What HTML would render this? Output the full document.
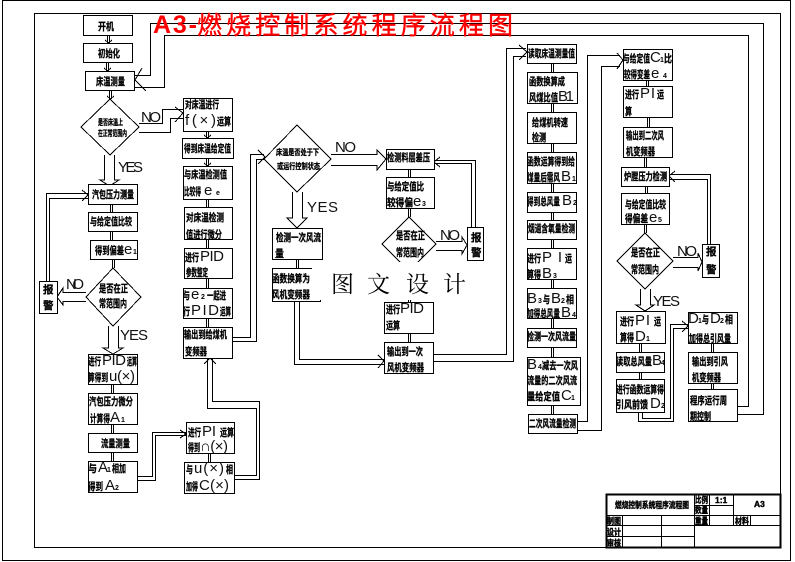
<!DOCTYPE html>
<html><head><meta charset="utf-8"><title>A3-燃烧控制系统程序流程图</title>
<style>
html,body{margin:0;padding:0;background:#fff}
svg{display:block}
.c{font-family:"Liberation Sans","Noto Sans CJK SC",sans-serif;font-size:10.5px;font-weight:700;fill:#000;stroke:#000;stroke-width:.3px}
.t{font-family:"Liberation Sans","Noto Sans CJK SC",sans-serif;font-size:8.5px;font-weight:700;fill:#000;stroke:#000;stroke-width:.4px}
.l{font-family:"Liberation Sans","Noto Sans CJK SC",sans-serif;font-size:15px;font-weight:400;fill:#111}
.s{font-family:"Liberation Sans",sans-serif;font-size:7px;font-weight:700;fill:#000}
.w{font-family:"Liberation Serif","Noto Serif CJK SC",serif;font-size:23px;fill:#000}
.r{font-family:"Liberation Sans","Noto Sans CJK SC",sans-serif;font-size:25px;fill:#f00;stroke:#f00;stroke-width:.4px}
.ra{font-family:"Liberation Sans",sans-serif;font-size:25px;font-weight:700;fill:#f00}
</style></head><body>
<svg xmlns="http://www.w3.org/2000/svg" width="795" height="562" viewBox="0 0 795 562">
<rect width="795" height="562" fill="#fff"/>
<g fill="none" stroke="#000" stroke-width="1" shape-rendering="crispEdges">
<rect x="2.5" y="0.5" width="788" height="560"/>
<rect x="34.5" y="13.5" width="746" height="534" stroke-width="1"/>
<!-- long connectors -->
<path d="M135 75.5H150.5V23.5H763.5V414.5H737M135 87.5H164.5V35.5H748.5V406.5H737"/>
<path d="M142 68L135 80L146 91"/>
<path d="M139 123.5H162.5V109.5H183M139 132.5H170.5V118.5H183M175 107L183 113L175 122"/>
<path d="M232 337.5H250.5V154.5H264M232 341.5H256.5V159.5H264M258 150L265 157L258 164"/>
<path d="M137 476.5H152.5V432.5H186M137 480.5H155.5V435.5H186M180 430L186 434L180 438"/>
<path d="M234 475.5H256.5V408.5H207.5V358M234 479.5H259.5V401.5H212.5V358M204 364L210 358L216 364"/>
<path d="M294.5 301V364.5H384M299.5 301V359.5H384M378 355L384 361L378 368"/>
<path d="M433 354.5H506.5V48.5H526M433 361.5H513.5V56.5H526M519 45L527 52L519 60"/>
<path d="M577 421.5H587.5V55.5H620M577 430.5H601.5V66.5H620M617 53L623 60L617 69"/>
<path d="M638.5 412V421.5H673.5V328.5H688M642.5 412V418.5H670.5V324.5H688M682 321L688 326L682 332"/>
<path d="M46.5 281V193.5H88M49.5 281V198.5H88M82 190L88 195L82 201"/>
<path d="M471.5 227V163.5H434M475.5 227V160.5H434M440 157L434 162L440 167"/>
<path d="M707.5 244V179.5H669M710.5 244V174.5H669M675 171L669 176L675 182"/>
<!-- short double connectors -->
<path d="M107.5 35V43M109.5 35V43M105 40L108.5 43L112 40"/>
<path d="M106.5 62V71M108.5 62V71M104 68L107.5 71L111 68"/>
<path d="M109.5 90V99M111.5 90V99M107 96L110.5 99L114 96"/>
<path d="M206.5 131V138M208.5 131V138M204 135L207.5 138L211 135"/>
<path d="M206.5 158V166M208.5 158V166M204 163L207.5 166L211 163"/>
<path d="M206.5 199V207M208.5 199V207"/>
<path d="M206.5 239V248M208.5 239V248"/>
<path d="M206.5 278V288M208.5 278V288"/>
<path d="M206.5 318V327M208.5 318V327"/>
<path d="M110.5 204V212M112.5 204V212"/>
<path d="M110.5 231V240M112.5 231V240"/>
<path d="M112.5 259V268M114.5 259V268"/>
<path d="M111.5 384V393M113.5 384V393"/>
<path d="M111.5 424V433M113.5 424V433"/>
<path d="M111.5 452V461M113.5 452V461"/>
<path d="M208.5 453V462M210.5 453V462"/>
<path d="M296.5 259V268M298.5 259V268"/>
<path d="M408.5 169V177M410.5 169V177"/>
<path d="M408.5 208V217M410.5 208V217"/>
<path d="M408.5 296V302M410.5 296V302"/>
<path d="M408.5 333V342M410.5 333V342"/>
<path d="M551.5 63V72M553.5 63V72"/>
<path d="M551.5 103V112M553.5 103V112"/>
<path d="M551.5 143V152M553.5 143V152"/>
<path d="M551.5 183V192M553.5 183V192"/>
<path d="M551.5 212V220M553.5 212V220"/>
<path d="M551.5 239V248M553.5 239V248"/>
<path d="M551.5 279V288M553.5 279V288"/>
<path d="M551.5 318V328M553.5 318V328"/>
<path d="M551.5 347V357M553.5 347V357"/>
<path d="M551.5 405V414M553.5 405V414"/>
<path d="M646.5 80V86M648.5 80V86"/>
<path d="M647.5 117V127M649.5 117V127"/>
<path d="M644.5 157V167M646.5 157V167"/>
<path d="M645.5 186V193M647.5 186V193"/>
<path d="M644.5 224V233M646.5 224V233"/>
<path d="M639.5 343V352M641.5 343V352"/>
<path d="M639.5 372V379M641.5 372V379"/>
<path d="M711.5 343V352M713.5 343V352"/>
<path d="M711.5 383V389M713.5 383V389"/>
<!-- block arrows -->
<path d="M104.5 155V180H100L109.5 186L119 180H114.5V155"/>
<path d="M108.5 326V348H103L113 354L123 348H118.5V326"/>
<path d="M86 292.5H63V288L57 297L63 305V301.5H86"/>
<path d="M331 154.5H377V150L386 159L377 170V165.5H331"/>
<path d="M292.5 192V218H287L297 228L307 218H302.5V192"/>
<path d="M436 241.5H462V237L467 245L462 254V250.5H436"/>
<path d="M673 257.5H698V253L702 262L698 271V267.5H673"/>
<path d="M640.5 289V305H636L645 311L654 305H650.5V289"/>
<!-- boxes -->
<g fill="#fff">
<rect x="83.5" y="15.5" width="49" height="20"/>
<rect x="83.5" y="43.5" width="49" height="19"/>
<rect x="85.5" y="71.5" width="49" height="19"/>
<polygon points="110,99 139,127 110,155 81,127"/>
<rect x="183.5" y="98.5" width="49" height="33"/>
<rect x="182.5" y="138.5" width="51" height="20"/>
<rect x="183.5" y="166.5" width="49" height="33"/>
<rect x="184.5" y="207.5" width="48" height="32"/>
<rect x="184.5" y="248.5" width="48" height="30"/>
<rect x="183.5" y="288.5" width="49" height="30"/>
<rect x="183.5" y="327.5" width="49" height="31"/>
<rect x="88.5" y="184.5" width="49" height="20"/>
<rect x="88.5" y="212.5" width="49" height="19"/>
<rect x="90.5" y="240.5" width="47" height="19"/>
<polygon points="113,268 141,297 113,326 86,297"/>
<rect x="39.5" y="281.5" width="18" height="32"/>
<rect x="88.5" y="354.5" width="49" height="30"/>
<rect x="88.5" y="393.5" width="49" height="31"/>
<rect x="88.5" y="433.5" width="49" height="19"/>
<rect x="88.5" y="461.5" width="49" height="31"/>
<rect x="186.5" y="422.5" width="48" height="31"/>
<rect x="184.5" y="462.5" width="50" height="31"/>
<polygon points="297,125 331,159 297,192 264,159"/>
<rect x="386.5" y="149.5" width="48" height="20"/>
<rect x="386.5" y="177.5" width="48" height="31"/>
<polygon points="409,217 436,244 409,271 382,244"/>
<rect x="467.5" y="227.5" width="16" height="33"/>
<rect x="272.5" y="228.5" width="50" height="31"/>
<rect x="272.5" y="268.5" width="48" height="33"/>
<rect x="384.5" y="302.5" width="49" height="31"/>
<rect x="384.5" y="342.5" width="49" height="31"/>
<rect x="527.5" y="44.5" width="49" height="19"/>
<rect x="527.5" y="72.5" width="50" height="31"/>
<rect x="527.5" y="112.5" width="49" height="31"/>
<rect x="527.5" y="152.5" width="49" height="31"/>
<rect x="527.5" y="192.5" width="49" height="20"/>
<rect x="527.5" y="220.5" width="49" height="19"/>
<rect x="527.5" y="248.5" width="49" height="31"/>
<rect x="527.5" y="288.5" width="49" height="30"/>
<rect x="527.5" y="328.5" width="49" height="19"/>
<rect x="527.5" y="357.5" width="53" height="48"/>
<rect x="528.5" y="414.5" width="49" height="19"/>
<rect x="623.5" y="49.5" width="49" height="31"/>
<rect x="623.5" y="86.5" width="49" height="31"/>
<rect x="623.5" y="127.5" width="49" height="30"/>
<rect x="621.5" y="167.5" width="48" height="19"/>
<rect x="621.5" y="193.5" width="48" height="31"/>
<polygon points="645,233 673,261 645,289 617,261"/>
<rect x="702.5" y="244.5" width="17" height="33"/>
<rect x="616.5" y="311.5" width="49" height="32"/>
<rect x="616.5" y="352.5" width="48" height="20"/>
<rect x="616.5" y="379.5" width="48" height="33"/>
<rect x="688.5" y="312.5" width="49" height="31"/>
<rect x="688.5" y="352.5" width="49" height="31"/>
<rect x="688.5" y="389.5" width="49" height="32"/>
</g>
<!-- title block -->
<rect x="606.5" y="494.5" width="174" height="53" fill="#fff" stroke-width="2"/>
<path d="M622.5 515V547M661.5 515V547M694.5 494V547M709.5 494V525M733.5 494V525M750.5 515V525M606 515.5H780M694 505.5H733M606 525.5H780M606 536.5H694"/>
</g>

<g>
<text class="c" x="98" y="30" textLength="16" lengthAdjust="spacingAndGlyphs">开机</text>
<text class="c" x="98" y="57" textLength="22" lengthAdjust="spacingAndGlyphs">初始化</text>
<text class="c" x="96" y="85" textLength="29" lengthAdjust="spacingAndGlyphs">床温测量</text>
<text class="c" x="98" y="125" textLength="25" lengthAdjust="spacingAndGlyphs" style="font-size:8px">是否床温上</text>
<text class="c" x="98" y="136" textLength="29" lengthAdjust="spacingAndGlyphs" style="font-size:8px">在正常范围内</text>
<text class="c" x="185" y="108" textLength="34" lengthAdjust="spacingAndGlyphs">对床温进行</text>
<text class="l" x="185" y="125" textLength="31" lengthAdjust="spacing">f(×)</text>
<text class="c" x="217" y="125" textLength="14" lengthAdjust="spacingAndGlyphs">运算</text>
<text class="c" x="184" y="152" textLength="47" lengthAdjust="spacingAndGlyphs">得到床温给定值</text>
<text class="c" x="184" y="178" textLength="43" lengthAdjust="spacingAndGlyphs">与床温检测值</text>
<text class="c" x="184" y="195" textLength="17" lengthAdjust="spacingAndGlyphs">比较得</text>
<text class="l" x="204" y="195">e</text>
<text class="s" x="216" y="195">e</text>
<text class="c" x="186" y="221" textLength="38" lengthAdjust="spacingAndGlyphs">对床温检测</text>
<text class="c" x="186" y="238" textLength="36" lengthAdjust="spacingAndGlyphs">值进行微分</text>
<text class="c" x="185" y="261" textLength="14" lengthAdjust="spacingAndGlyphs">进行</text>
<text class="l" x="200" y="261" textLength="24" lengthAdjust="spacing">PID</text>
<text class="c" x="186" y="276" textLength="22" lengthAdjust="spacingAndGlyphs">参数整定</text>
<text class="c" x="183" y="299" textLength="7" lengthAdjust="spacingAndGlyphs">与</text>
<text class="l" x="191" y="299">e</text>
<text class="s" x="201" y="299">2</text>
<text class="c" x="207" y="299" textLength="19" lengthAdjust="spacingAndGlyphs">一起进</text>
<text class="c" x="183" y="315" textLength="7" lengthAdjust="spacingAndGlyphs">行</text>
<text class="l" x="191" y="315" textLength="28" lengthAdjust="spacing">PID</text>
<text class="c" x="220" y="315" textLength="11" lengthAdjust="spacingAndGlyphs">运算</text>
<text class="c" x="184" y="338" textLength="43" lengthAdjust="spacingAndGlyphs">输出到给煤机</text>
<text class="c" x="185" y="355" textLength="22" lengthAdjust="spacingAndGlyphs">变频器</text>
<text class="c" x="92" y="198" textLength="42" lengthAdjust="spacingAndGlyphs">汽包压力测量</text>
<text class="c" x="90" y="225" textLength="42" lengthAdjust="spacingAndGlyphs">与给定值比较</text>
<text class="c" x="95" y="254" textLength="29" lengthAdjust="spacingAndGlyphs">得到偏差</text>
<text class="l" x="124" y="254">e</text>
<text class="s" x="133" y="254">1</text>
<text class="c" x="99" y="292" textLength="29" lengthAdjust="spacingAndGlyphs">是否在正</text>
<text class="c" x="99" y="307" textLength="28" lengthAdjust="spacingAndGlyphs">常范围内</text>
<text class="c" x="43" y="293">报</text>
<text class="c" x="43" y="309">警</text>
<text class="c" x="88" y="365" textLength="13" lengthAdjust="spacingAndGlyphs">进行</text>
<text class="l" x="102" y="365" textLength="24" lengthAdjust="spacing">PID</text>
<text class="c" x="127" y="365" textLength="10" lengthAdjust="spacingAndGlyphs">运算</text>
<text class="c" x="88" y="381" textLength="20" lengthAdjust="spacingAndGlyphs">算得到</text>
<text class="l" x="109" y="381" textLength="26" lengthAdjust="spacing">u(×)</text>
<text class="c" x="89" y="405" textLength="44" lengthAdjust="spacingAndGlyphs">汽包压力微分</text>
<text class="c" x="90" y="422" textLength="20" lengthAdjust="spacingAndGlyphs">计算得</text>
<text class="l" x="110" y="422">A</text>
<text class="s" x="121" y="422">1</text>
<text class="c" x="101" y="447" textLength="29" lengthAdjust="spacingAndGlyphs">流量测量</text>
<text class="c" x="88" y="472" textLength="9" lengthAdjust="spacingAndGlyphs">与</text>
<text class="l" x="98" y="472">A</text>
<text class="s" x="107" y="472">1</text>
<text class="c" x="112" y="472" textLength="14" lengthAdjust="spacingAndGlyphs">相加</text>
<text class="c" x="88" y="490" textLength="15" lengthAdjust="spacingAndGlyphs">得到</text>
<text class="l" x="105" y="490">A</text>
<text class="s" x="115" y="490">2</text>
<text class="c" x="188" y="436" textLength="13" lengthAdjust="spacingAndGlyphs">进行</text>
<text class="l" x="202" y="436" textLength="14" lengthAdjust="spacing">PI</text>
<text class="c" x="220" y="436" textLength="14" lengthAdjust="spacingAndGlyphs">运算</text>
<text class="c" x="188" y="451" textLength="12" lengthAdjust="spacingAndGlyphs">得到</text>
<text class="l" x="200" y="451" textLength="28" lengthAdjust="spacing">∩(×)</text>
<text class="c" x="186" y="473" textLength="7" lengthAdjust="spacingAndGlyphs">与</text>
<text class="l" x="194" y="473" textLength="30" lengthAdjust="spacing">u(×)</text>
<text class="c" x="226" y="473" textLength="7" lengthAdjust="spacingAndGlyphs">相</text>
<text class="c" x="186" y="490" textLength="12" lengthAdjust="spacingAndGlyphs">加得</text>
<text class="l" x="199" y="490" textLength="30" lengthAdjust="spacing">C(×)</text>

<text class="c" x="276" y="155" textLength="43" lengthAdjust="spacingAndGlyphs" style="font-size:8px">床温是否处于下</text>
<text class="c" x="277" y="169" textLength="43" lengthAdjust="spacingAndGlyphs" style="font-size:8px">或运行控制状态</text>
<text class="c" x="387" y="161" textLength="43" lengthAdjust="spacingAndGlyphs">检测料层差压</text>
<text class="c" x="387" y="190" textLength="37" lengthAdjust="spacingAndGlyphs">与给定值比</text>
<text class="c" x="387" y="206" textLength="26" lengthAdjust="spacingAndGlyphs">较得偏</text>
<text class="l" x="413" y="206">e</text>
<text class="s" x="422" y="206">3</text>
<text class="c" x="396" y="239" textLength="29" lengthAdjust="spacingAndGlyphs">是否在正</text>
<text class="c" x="396" y="256" textLength="28" lengthAdjust="spacingAndGlyphs">常范围内</text>
<text class="c" x="471" y="241">报</text>
<text class="c" x="471" y="256">警</text>
<text class="c" x="276" y="241" textLength="45" lengthAdjust="spacingAndGlyphs">检测一次风流</text>
<text class="c" x="275" y="257" textLength="9" lengthAdjust="spacingAndGlyphs">量</text>
<text class="c" x="272" y="282" textLength="38" lengthAdjust="spacingAndGlyphs">函数换算为</text>
<text class="c" x="272" y="298" textLength="38" lengthAdjust="spacingAndGlyphs">风机变频器</text>
<text class="c" x="386" y="313" textLength="14" lengthAdjust="spacingAndGlyphs">进行</text>
<text class="l" x="400" y="313" textLength="24" lengthAdjust="spacing">PID</text>
<text class="c" x="386" y="329" textLength="14" lengthAdjust="spacingAndGlyphs">运算</text>
<text class="c" x="387" y="355" textLength="36" lengthAdjust="spacingAndGlyphs">输出到一次</text>
<text class="c" x="387" y="371" textLength="37" lengthAdjust="spacingAndGlyphs">风机变频器</text>

<text class="c" x="528" y="57" textLength="47" lengthAdjust="spacingAndGlyphs">读取床温测量值</text>
<text class="c" x="529" y="85" textLength="36" lengthAdjust="spacingAndGlyphs">函数换算成</text>
<text class="c" x="529" y="101" textLength="29" lengthAdjust="spacingAndGlyphs">风煤比值</text>
<text class="l" x="558" y="101" textLength="16" lengthAdjust="spacing">B1</text>
<text class="c" x="532" y="126" textLength="36" lengthAdjust="spacingAndGlyphs">给煤机转速</text>
<text class="c" x="532" y="141" textLength="14" lengthAdjust="spacingAndGlyphs">检测</text>
<text class="c" x="527" y="165" textLength="48" lengthAdjust="spacingAndGlyphs">函数运算得到给</text>
<text class="c" x="527" y="181" textLength="33" lengthAdjust="spacingAndGlyphs">煤量后需风</text>
<text class="l" x="561" y="181">B</text>
<text class="s" x="572" y="181">1</text>
<text class="c" x="527" y="205" textLength="33" lengthAdjust="spacingAndGlyphs">得到总风量</text>
<text class="l" x="562" y="205">B</text>
<text class="s" x="573" y="205">2</text>
<text class="c" x="528" y="232" textLength="47" lengthAdjust="spacingAndGlyphs">烟道含氧量检测</text>
<text class="c" x="527" y="262" textLength="14" lengthAdjust="spacingAndGlyphs">进行</text>
<text class="l" x="542" y="262" textLength="20" lengthAdjust="spacing">PI</text>
<text class="c" x="565" y="262" textLength="7" lengthAdjust="spacingAndGlyphs">运</text>
<text class="c" x="527" y="278" textLength="14" lengthAdjust="spacingAndGlyphs">算得</text>
<text class="l" x="542" y="278">B</text>
<text class="s" x="553" y="278">3</text>
<text class="l" x="527" y="303">B</text>
<text class="s" x="538" y="303">3</text>
<text class="c" x="543" y="303" textLength="7" lengthAdjust="spacingAndGlyphs">与</text>
<text class="l" x="551" y="303">B</text>
<text class="s" x="561" y="303">2</text>
<text class="c" x="566" y="303" textLength="8" lengthAdjust="spacingAndGlyphs">相</text>
<text class="c" x="527" y="317" textLength="33" lengthAdjust="spacingAndGlyphs">加得总风量</text>
<text class="l" x="561" y="317">B</text>
<text class="s" x="572" y="317">4</text>
<text class="c" x="527" y="340" textLength="49" lengthAdjust="spacingAndGlyphs">检测一次风流量</text>
<text class="l" x="527" y="369">B</text>
<text class="s" x="538" y="369">4</text>
<text class="c" x="542" y="369" textLength="36" lengthAdjust="spacingAndGlyphs">减去一次风</text>
<text class="c" x="527" y="384" textLength="50" lengthAdjust="spacingAndGlyphs">流量的二次风流</text>
<text class="c" x="527" y="400" textLength="33" lengthAdjust="spacingAndGlyphs">量给定值</text>
<text class="l" x="561" y="400">C</text>
<text class="s" x="571" y="400">1</text>
<text class="c" x="529" y="427" textLength="47" lengthAdjust="spacingAndGlyphs">二次风流量检测</text>

<text class="c" x="623" y="62" textLength="27" lengthAdjust="spacingAndGlyphs">与给定值</text>
<text class="l" x="650" y="62">C</text>
<text class="s" x="660" y="62">1</text>
<text class="c" x="664" y="62" textLength="8" lengthAdjust="spacingAndGlyphs">比</text>
<text class="c" x="624" y="78" textLength="26" lengthAdjust="spacingAndGlyphs">较得变差</text>
<text class="l" x="651" y="78">e</text>
<text class="s" x="663" y="78">4</text>
<text class="c" x="625" y="98" textLength="14" lengthAdjust="spacingAndGlyphs">进行</text>
<text class="l" x="640" y="98" textLength="15" lengthAdjust="spacing">PI</text>
<text class="c" x="657" y="98" textLength="7" lengthAdjust="spacingAndGlyphs">运</text>
<text class="c" x="625" y="115" textLength="7" lengthAdjust="spacingAndGlyphs">算</text>
<text class="c" x="626" y="139" textLength="38" lengthAdjust="spacingAndGlyphs">输出到二次风</text>
<text class="c" x="626" y="155" textLength="29" lengthAdjust="spacingAndGlyphs">机变频器</text>
<text class="c" x="624" y="180" textLength="43" lengthAdjust="spacingAndGlyphs">炉膛压力检测</text>
<text class="c" x="625" y="208" textLength="41" lengthAdjust="spacingAndGlyphs">与给定值比较</text>
<text class="c" x="625" y="222" textLength="23" lengthAdjust="spacingAndGlyphs">得偏差</text>
<text class="l" x="649" y="222">e</text>
<text class="s" x="658" y="222">5</text>
<text class="c" x="631" y="256" textLength="29" lengthAdjust="spacingAndGlyphs">是否在正</text>
<text class="c" x="631" y="273" textLength="28" lengthAdjust="spacingAndGlyphs">常范围内</text>
<text class="c" x="706" y="255">报</text>
<text class="c" x="706" y="273">警</text>
<text class="c" x="620" y="325" textLength="14" lengthAdjust="spacingAndGlyphs">进行</text>
<text class="l" x="635" y="325" textLength="15" lengthAdjust="spacing">PI</text>
<text class="c" x="654" y="325" textLength="7" lengthAdjust="spacingAndGlyphs">运</text>
<text class="c" x="620" y="341" textLength="14" lengthAdjust="spacingAndGlyphs">算得</text>
<text class="l" x="635" y="341">D</text>
<text class="s" x="646" y="341">1</text>
<text class="c" x="616" y="365" textLength="36" lengthAdjust="spacingAndGlyphs">读取总风量</text>
<text class="l" x="652" y="365">B</text>
<text class="s" x="661" y="365">4</text>
<text class="c" x="616" y="393" textLength="48" lengthAdjust="spacingAndGlyphs">进行函数运算得</text>
<text class="c" x="616" y="408" textLength="32" lengthAdjust="spacingAndGlyphs">引风前馈</text>
<text class="l" x="650" y="408">D</text>
<text class="s" x="661" y="408">2</text>
<text class="l" x="688" y="323">D</text>
<text class="s" x="698" y="323">1</text>
<text class="c" x="702" y="323" textLength="7" lengthAdjust="spacingAndGlyphs">与</text>
<text class="l" x="710" y="323">D</text>
<text class="s" x="720" y="323">2</text>
<text class="c" x="725" y="323" textLength="8" lengthAdjust="spacingAndGlyphs">相</text>
<text class="c" x="689" y="342" textLength="42" lengthAdjust="spacingAndGlyphs">加得总引风量</text>
<text class="c" x="692" y="365" textLength="36" lengthAdjust="spacingAndGlyphs">输出到引风</text>
<text class="c" x="692" y="381" textLength="29" lengthAdjust="spacingAndGlyphs">机变频器</text>
<text class="c" x="690" y="404" textLength="37" lengthAdjust="spacingAndGlyphs">程序运行周</text>
<text class="c" x="690" y="420" textLength="21" lengthAdjust="spacingAndGlyphs">期控制</text>

<!-- NO / YES -->
<text class="l" x="141" y="122" textLength="20" lengthAdjust="spacing">NO</text>
<text class="l" x="118" y="172" textLength="25" lengthAdjust="spacing">YES</text>
<text class="l" x="66" y="289" textLength="18" lengthAdjust="spacing">NO</text>
<text class="l" x="120" y="340" textLength="28" lengthAdjust="spacing">YES</text>
<text class="l" x="335" y="152" textLength="21" lengthAdjust="spacing">NO</text>
<text class="l" x="307" y="212" textLength="31" lengthAdjust="spacing">YES</text>
<text class="l" x="440" y="240" textLength="20" lengthAdjust="spacing">NO</text>
<text class="l" x="677" y="256" textLength="20" lengthAdjust="spacing">NO</text>
<text class="l" x="653" y="306" textLength="27" lengthAdjust="spacing">YES</text>

<!-- title block text -->
<text class="t" x="615" y="508" textLength="74" lengthAdjust="spacingAndGlyphs">燃烧控制系统程序流程图</text>
<text class="t" x="695" y="503" textLength="13" lengthAdjust="spacingAndGlyphs">比例</text>
<text class="t" x="715" y="503">1:1</text>
<text class="t" x="695" y="513" textLength="13" lengthAdjust="spacingAndGlyphs">数量</text>
<text class="t" x="695" y="524" textLength="13" lengthAdjust="spacingAndGlyphs">重量</text>
<text class="t" x="735" y="524" textLength="14" lengthAdjust="spacingAndGlyphs">材料</text>
<text class="t" x="754" y="507">A3</text>
<text class="t" x="607" y="524" textLength="14" lengthAdjust="spacingAndGlyphs">制图</text>
<text class="t" x="607" y="535" textLength="14" lengthAdjust="spacingAndGlyphs">设计</text>
<text class="t" x="607" y="546" textLength="14" lengthAdjust="spacingAndGlyphs">审核</text>
</g>

<!-- watermark -->
<rect x="312" y="262" width="161" height="38" fill="#fff"/>
<text class="w" x="331" y="292">图</text>
<text class="w" x="367" y="292">文</text>
<text class="w" x="406" y="292">设</text>
<text class="w" x="443" y="292">计</text>

<!-- red title -->
<text class="ra" x="153" y="33" textLength="44" lengthAdjust="spacing">A3-</text>
<text class="r" x="197" y="34" textLength="316" lengthAdjust="spacing">燃烧控制系统程序流程图</text>
</svg>
</body></html>
